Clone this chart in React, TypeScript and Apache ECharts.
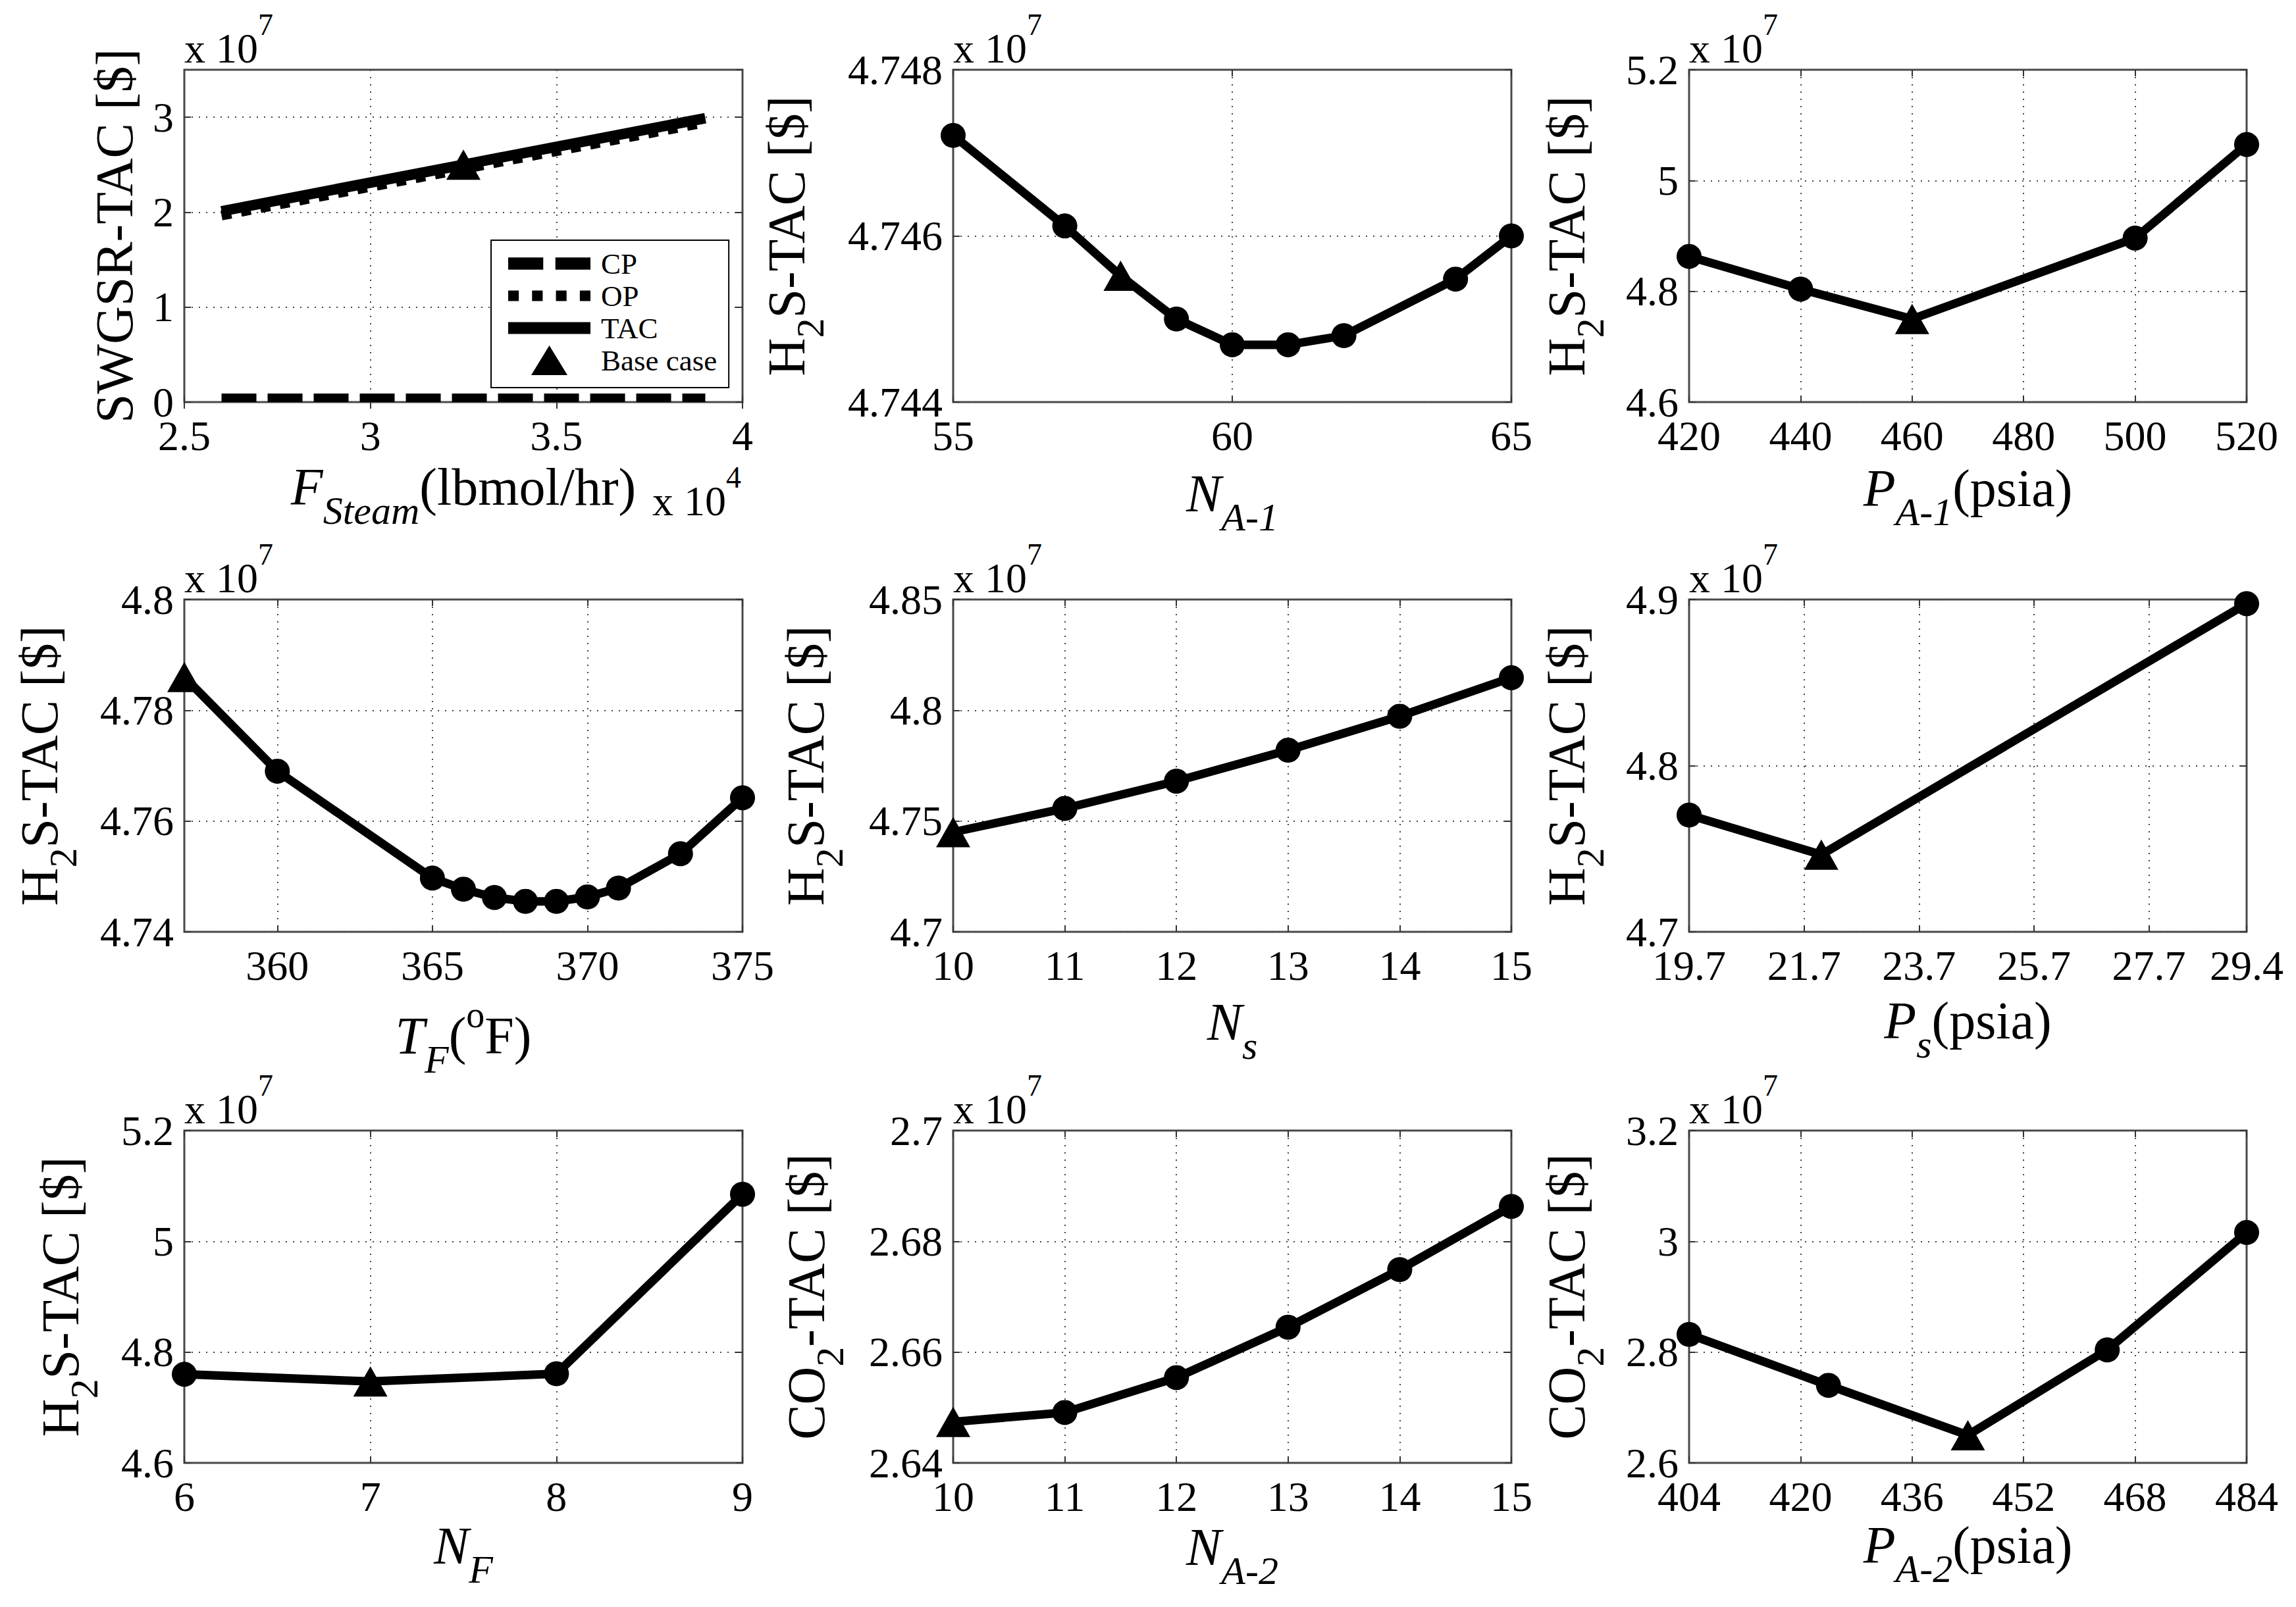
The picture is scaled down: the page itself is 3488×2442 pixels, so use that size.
import React, { useEffect, useRef } from 'react';
import * as echarts from 'echarts';

const SERIF = 'Liberation Serif';

// ---------------- DATA (cost values in units of 1e7 $) ----------------
// Panel 1: SWGSR costs vs steam flow (x in units of 1e4 lbmol/hr)
const fSteam = [2.6, 3.25, 3.9];
const swgsrCP = [0.045, 0.045, 0.045];
const swgsrOP = [1.965, 2.455, 2.945];
const swgsrTAC = [2.01, 2.5, 2.99];
const fSteamBase = [3.25];
const swgsrBase = [2.5];

// Panel 2: N_A-1
const nA1 = [55, 57, 58, 59, 60, 61, 62, 64, 65];
const nA1TAC = [4.74721, 4.74612, 4.74552, 4.745, 4.74469, 4.74469, 4.7448, 4.74548, 4.746];
const nA1Base = 58;

// Panel 3: P_A-1
const pA1 = [420, 440, 460, 500, 520];
const pA1TAC = [4.863, 4.804, 4.75, 4.896, 5.065];
const pA1Base = 460;

// Panel 4: T_F
const tF = [357, 360, 365, 366, 367, 368, 369, 370, 371, 373, 375];
const tFTAC = [4.786, 4.769, 4.7497, 4.7477, 4.7462, 4.7455, 4.7455, 4.7463, 4.7479, 4.7541, 4.7642];
const tFBase = 357;
const tFTicks = [360, 365, 370, 375];

// Panel 5: N_s
const nS = [10, 11, 12, 13, 14, 15];
const nSTAC = [4.745, 4.7557, 4.768, 4.782, 4.7973, 4.8147];
const nSBase = 10;

// Panel 6: P_s
const pS = [19.7, 22.0, 29.4];
const pSTAC = [4.7703, 4.7464, 4.8975];
const pSBase = 22.0;
const pSTicks = [19.7, 21.7, 23.7, 25.7, 27.7, 29.4];

// Panel 7: N_F
const nF = [6, 7, 8, 9];
const nFTAC = [4.76, 4.747, 4.761, 5.085];
const nFBase = 7;

// Panel 8: N_A-2
const nA2 = [10, 11, 12, 13, 14, 15];
const nA2TAC = [2.6474, 2.6491, 2.6554, 2.6645, 2.6749, 2.6863];
const nA2Base = 10;

// Panel 9: P_A-2
const pA2 = [404, 424, 444, 464, 484];
const pA2TAC = [2.832, 2.74, 2.65, 2.804, 3.016];
const pA2Base = 444;
const pA2Ticks = [404, 420, 436, 452, 468, 484];

const legendNames = ['CP', 'OP', 'TAC', 'Base case'];

// ---------------- LAYOUT ----------------
const COL_LEFT = [280, 1448, 2566];
const COL_W = [848, 848, 847];
const ROW_TOP = [106, 911, 1718];
const ROW_H = 505;

type AxisCfg = { min: number; max: number; interval?: number; ticks?: number[]; hideMax?: boolean };
type Panel = {
  x: AxisCfg; y: AxisCfg;
  xTitle: string; xSup?: boolean; yTitle: string;
  xTitleY: number; yTitleX: number;
};

const PANELS: Panel[] = [
  { x: { min: 2.5, max: 4, interval: 0.5 }, y: { min: 0, max: 3.5, interval: 1, hideMax: true },
    xTitle: '{mi|F}{si|Steam}{m|(lbmol/hr)}', yTitle: '{m|SWGSR-TAC [$]}', xTitleY: 740, yTitleX: 174 },
  { x: { min: 55, max: 65, interval: 5 }, y: { min: 4.744, max: 4.748, interval: 0.002 },
    xTitle: '{mi|N}{si|A-1}', yTitle: '{m|H}{s|2}{m|S-TAC [$]}', xTitleY: 750, yTitleX: 1195 },
  { x: { min: 420, max: 520, interval: 20 }, y: { min: 4.6, max: 5.2, interval: 0.2 },
    xTitle: '{mi|P}{si|A-1}{m|(psia)}', yTitle: '{m|H}{s|2}{m|S-TAC [$]}', xTitleY: 742, yTitleX: 2380 },
  { x: { min: 357, max: 375, ticks: tFTicks }, y: { min: 4.74, max: 4.8, interval: 0.02 },
    xTitle: '{mi|T}{si|F}{m|(}{u|o}{m|F)}', xSup: true, yTitle: '{m|H}{s|2}{m|S-TAC [$]}', xTitleY: 1574, yTitleX: 60 },
  { x: { min: 10, max: 15, interval: 1 }, y: { min: 4.7, max: 4.85, interval: 0.05 },
    xTitle: '{mi|N}{si|s}', yTitle: '{m|H}{s|2}{m|S-TAC [$]}', xTitleY: 1553, yTitleX: 1224 },
  { x: { min: 19.7, max: 29.4, ticks: pSTicks }, y: { min: 4.7, max: 4.9, interval: 0.1 },
    xTitle: '{mi|P}{si|s}{m|(psia)}', yTitle: '{m|H}{s|2}{m|S-TAC [$]}', xTitleY: 1551, yTitleX: 2380 },
  { x: { min: 6, max: 9, interval: 1 }, y: { min: 4.6, max: 5.2, interval: 0.2 },
    xTitle: '{mi|N}{si|F}', yTitle: '{m|H}{s|2}{m|S-TAC [$]}', xTitleY: 2349, yTitleX: 92 },
  { x: { min: 10, max: 15, interval: 1 }, y: { min: 2.64, max: 2.7, interval: 0.02 },
    xTitle: '{mi|N}{si|A-2}', yTitle: '{m|CO}{s|2}{m|-TAC [$]}', xTitleY: 2351, yTitleX: 1225 },
  { x: { min: 404, max: 484, ticks: pA2Ticks }, y: { min: 2.6, max: 3.2, interval: 0.2 },
    xTitle: '{mi|P}{si|A-2}{m|(psia)}', yTitle: '{m|CO}{s|2}{m|-TAC [$]}', xTitleY: 2348, yTitleX: 2380 },
];

const SWEEPS = [
  null,
  { xs: nA1, ys: nA1TAC, base: nA1Base },
  { xs: pA1, ys: pA1TAC, base: pA1Base },
  { xs: tF, ys: tFTAC, base: tFBase },
  { xs: nS, ys: nSTAC, base: nSBase },
  { xs: pS, ys: pSTAC, base: pSBase },
  { xs: nF, ys: nFTAC, base: nFBase },
  { xs: nA2, ys: nA2TAC, base: nA2Base },
  { xs: pA2, ys: pA2TAC, base: pA2Base },
];

const gridRect = (i: number) => {
  const c = i % 3, r = Math.floor(i / 3);
  return { left: COL_LEFT[c], top: ROW_TOP[r], width: COL_W[c], height: ROW_H };
};

const SUB = 46;
const richTitle = (mp: number) => ({
  m: { fontFamily: SERIF, fontSize: 80, height: 80, padding: [mp, 0, 0, 0], verticalAlign: 'top', fill: '#000' },
  mi: { fontFamily: SERIF, fontStyle: 'italic', fontSize: 80, height: 80, padding: [mp, 0, 0, 0], verticalAlign: 'top', fill: '#000' },
  s: { fontFamily: SERIF, fontSize: 60, height: 60, padding: [mp + SUB, 0, 0, 0], verticalAlign: 'top', fill: '#000' },
  si: { fontFamily: SERIF, fontStyle: 'italic', fontSize: 60, height: 60, padding: [mp + SUB, 0, 0, 0], verticalAlign: 'top', fill: '#000' },
  u: { fontFamily: SERIF, fontSize: 56, height: 56, padding: [0, 0, 0, 0], verticalAlign: 'top', fill: '#000' },
});

const richExp = {
  a: { fontFamily: SERIF, fontSize: 64, height: 64, padding: [27, 0, 0, 0], verticalAlign: 'top', fill: '#000' },
  b: { fontFamily: SERIF, fontSize: 46, height: 46, padding: [0, 0, 0, 0], verticalAlign: 'top', fill: '#000' },
};

function buildOption() {
  const grid: any[] = [];
  const xAxis: any[] = [];
  const yAxis: any[] = [];
  const series: any[] = [];
  const graphics: any[] = [];

  const splitLine = { show: true, lineStyle: { color: '#444', width: 2, type: [2, 9] } };
  const axisTickBase = { show: true, inside: true, length: 10, lineStyle: { color: '#333', width: 2 } };

  const mirrorX: any[] = [];
  const mirrorY: any[] = [];

  PANELS.forEach((p, i) => {
    const g = gridRect(i);
    grid.push({ ...g, show: true, borderColor: '#4a4a4a', borderWidth: 3, backgroundColor: 'transparent', containLabel: false, outerBoundsMode: 'none' });

    const xa: any = {
      type: 'value', gridIndex: i, position: 'bottom', min: p.x.min, max: p.x.max,
      axisLine: { show: false },
      axisTick: { ...axisTickBase },
      axisLabel: { fontFamily: SERIF, fontSize: 64, lineHeight: 50, color: '#000', margin: 26 },
      splitLine,
    };
    if (p.x.interval) xa.interval = p.x.interval;
    if (p.x.ticks) {
      xa.axisTick.customValues = p.x.ticks;
      xa.axisLabel.customValues = p.x.ticks;
    }
    xAxis.push(xa);
    mirrorX.push({
      ...xa, position: 'top',
      axisTick: { ...xa.axisTick },
      axisLabel: { ...xa.axisLabel, show: false },
      splitLine: { show: false },
    });

    const ya: any = {
      type: 'value', gridIndex: i, position: 'left', min: p.y.min, max: p.y.max, interval: p.y.interval,
      axisLine: { show: false },
      axisTick: { ...axisTickBase },
      axisLabel: { fontFamily: SERIF, fontSize: 64, lineHeight: 50, color: '#000', margin: 16 },
      splitLine,
    };
    if (p.y.hideMax) ya.axisLabel.showMaxLabel = false;
    yAxis.push(ya);
    mirrorY.push({
      ...ya, position: 'right',
      axisTick: { ...ya.axisTick },
      axisLabel: { ...ya.axisLabel, show: false },
      splitLine: { show: false },
    });

    // titles
    const mp = p.xSup ? 20 : 0;
    graphics.push({
      type: 'text', silent: true, x: g.left + g.width / 2, y: p.xTitleY - mp - 40,
      style: { text: p.xTitle, align: 'center', verticalAlign: 'top', fill: '#000', fontFamily: SERIF, rich: richTitle(mp) },
    });
    graphics.push({
      type: 'text', silent: true, x: p.yTitleX - 40, y: g.top + g.height / 2, rotation: Math.PI / 2,
      style: { text: p.yTitle, align: 'center', verticalAlign: 'top', fill: '#000', fontFamily: SERIF, rich: richTitle(0) },
    });
    graphics.push({
      type: 'text', silent: true, x: g.left, y: g.top - 92,
      style: { text: '{a|x 10}{b|7}', align: 'left', verticalAlign: 'top', fill: '#000', fontFamily: SERIF, rich: richExp },
    });

    const sw = SWEEPS[i];
    if (sw) {
      series.push({
        name: 'TAC sweep ' + (i + 1), type: 'line', xAxisIndex: i, yAxisIndex: i,
        data: sw.xs.map((x, k) => ({
          value: [x, sw.ys[k]],
          symbol: x === sw.base ? 'triangle' : 'circle',
          symbolSize: x === sw.base ? [52, 46] : 38,
        })),
        symbol: 'circle', showSymbol: true, clip: false,
        lineStyle: { color: '#000', width: 13 }, itemStyle: { color: '#000', opacity: 1 },
        z: 3,
      });
    }
  });

  xAxis.push(...mirrorX);
  yAxis.push(...mirrorY);

  // x 10^4 on panel 1
  graphics.push({
    type: 'text', silent: true, x: 991, y: 702,
    style: { text: '{a|x 10}{b|4}', align: 'left', verticalAlign: 'top', fill: '#000', fontFamily: SERIF, rich: richExp },
  });

  // Panel 1 series
  const zip = (xs: number[], ys: number[]) => xs.map((x, k) => [x, ys[k]]);
  series.push({
    name: 'OP', type: 'line', xAxisIndex: 0, yAxisIndex: 0, data: zip(fSteam, swgsrOP), symbol: 'none', clip: false,
    lineStyle: { color: '#000', width: 15, type: [15, 15], cap: 'butt' }, itemStyle: { color: '#000' }, z: 2,
  });
  series.push({
    name: 'CP', type: 'line', xAxisIndex: 0, yAxisIndex: 0, data: zip(fSteam, swgsrCP), symbol: 'none', clip: false,
    lineStyle: { color: '#000', width: 13, type: [53, 17], cap: 'butt' }, itemStyle: { color: '#000' }, z: 2,
  });
  series.push({
    name: 'TAC', type: 'line', xAxisIndex: 0, yAxisIndex: 0, data: zip(fSteam, swgsrTAC), symbol: 'none', clip: false,
    lineStyle: { color: '#000', width: 16 }, itemStyle: { color: '#000' }, z: 3,
  });
  series.push({
    name: 'Base case', type: 'scatter', xAxisIndex: 0, yAxisIndex: 0, data: zip(fSteamBase, swgsrBase),
    symbol: 'triangle', symbolSize: [52, 46], itemStyle: { color: '#000', opacity: 1 }, clip: false, z: 4,
  });

  const icons: Record<string, string> = {
    CP: 'path://M0,0H52V18H0Z M70,0H122V18H70Z',
    OP: 'path://M0,0H16V16H0Z M36,0H52V16H36Z M72,0H88V16H72Z M108,0H124V16H108Z',
    TAC: 'path://M0,0H125V18H0Z',
    'Base case': 'path://M27.5,0L55,45H0Z',
  };

  return {
    animation: false,
    backgroundColor: '#fff',
    textStyle: { fontFamily: SERIF },
    grid, xAxis, yAxis, series,
    legend: {
      show: true, orient: 'vertical', left: 746, top: 365,
      padding: [13, 18, 19, 26], itemGap: 4, itemWidth: 125, itemHeight: 45,
      backgroundColor: '#fff', borderColor: '#000', borderWidth: 2, borderRadius: 0,
      selectedMode: false, symbolKeepAspect: true,
      itemStyle: { borderWidth: 0, opacity: 1 },
      textStyle: { fontFamily: SERIF, fontSize: 45, color: '#000', lineHeight: 45, padding: [0, 0, 0, 11] },
      data: legendNames.map((n) => ({ name: n, icon: icons[n] })),
      z: 10,
    },
    graphic: { elements: graphics },
  };
}

export default function App() {
  const ref = useRef<HTMLDivElement>(null);
  useEffect(() => {
    const chart = echarts.init(ref.current as HTMLDivElement, null, { renderer: 'svg' });
    chart.setOption(buildOption() as any);
    return () => chart.dispose();
  }, []);
  return (
    <div
      ref={ref}
      style={{ position: 'fixed', left: 0, top: 0, width: 3488, height: 2442, background: '#fff' }}
    />
  );
}
